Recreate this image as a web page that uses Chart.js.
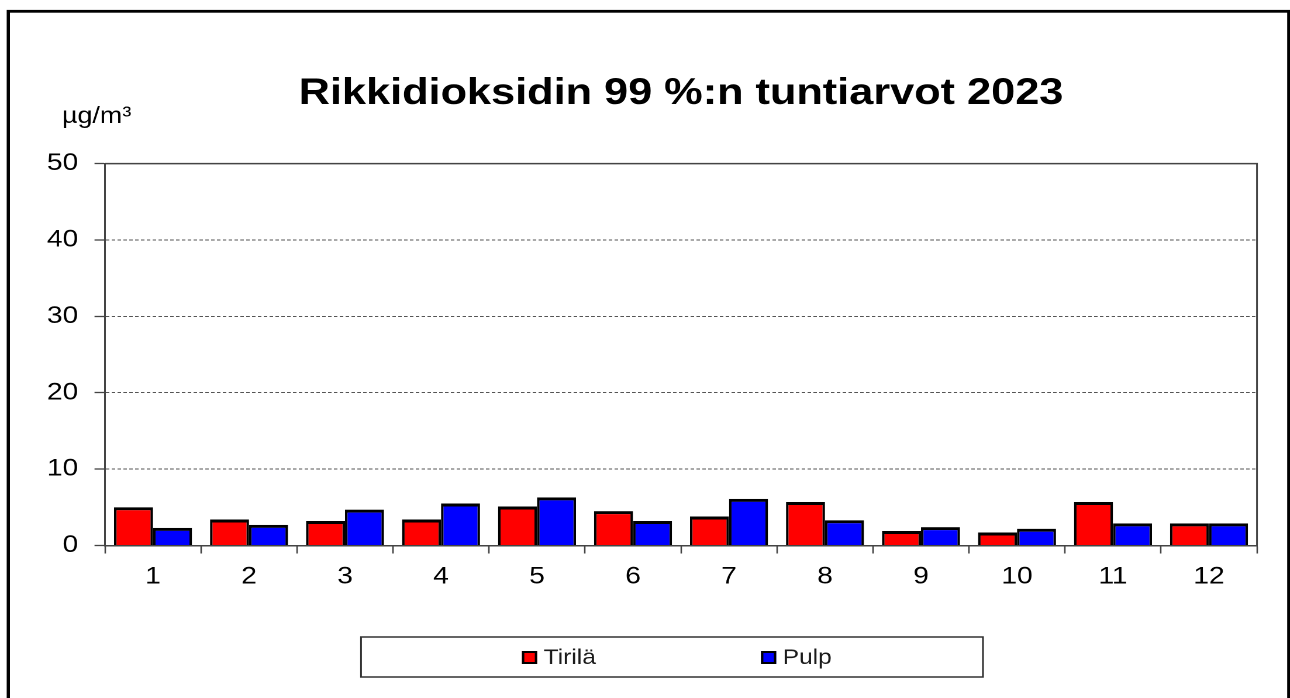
<!DOCTYPE html>
<html>
<head>
<meta charset="utf-8">
<title>Rikkidioksidi 2023</title>
<script src="https://cdn.jsdelivr.net/npm/chart.js@4"></script>
<style>
  html, body { margin: 0; padding: 0; background: #fff; overflow: hidden; }
  /* chart is laid out narrower and stretched sideways, like the old spreadsheet export */
  #wrap { width: 1103px; height: 698px; transform: scaleX(1.1695); transform-origin: 0 0; }
</style>
</head>
<body>
<div id="wrap"><canvas id="myChart" width="1103" height="698"></canvas></div>
<script>
const months = ['1', '2', '3', '4', '5', '6', '7', '8', '9', '10', '11', '12'];
const tirila = [5.0, 3.4, 3.2, 3.4, 5.1, 4.5, 3.8, 5.7, 1.9, 1.7, 5.7, 2.9];
const pulp = [2.3, 2.7, 4.7, 5.5, 6.3, 3.2, 6.1, 3.3, 2.4, 2.2, 2.9, 2.9];
const seriesNames = ['Tirilä', 'Pulp'];
const yTicks = [0, 10, 20, 30, 40, 50];

const fontFamily = '"Liberation Sans", Arial, Helvetica, sans-serif';
Chart.defaults.font.family = fontFamily;
Chart.defaults.color = '#000';

// outer frame, plot box, unit text and the boxed legend
const decor = {
  id: 'decor',
  beforeDraw(chart) {
    const c = chart.ctx;
    c.save();
    c.fillStyle = '#fff';
    c.fillRect(0, 0, chart.width, chart.height);
    c.restore();
  },
  afterDraw(chart) {
    const c = chart.ctx;
    const a = chart.chartArea;
    c.save();

    c.strokeStyle = '#444';
    c.lineWidth = 1.5;
    c.beginPath();
    c.moveTo(a.left, a.top);
    c.lineTo(a.right, a.top);
    c.lineTo(a.right, a.bottom);
    c.stroke();

    c.strokeStyle = '#000';
    c.lineWidth = 2.8;
    c.strokeRect(7.1, 11.3, 1094.9, 720);

    c.fillStyle = '#000';
    c.font = '23px ' + fontFamily;
    c.textBaseline = 'alphabetic';
    c.textAlign = 'left';
    c.fillText('µg/m³', 53, 123);

    c.strokeStyle = '#333';
    c.lineWidth = 1.5;
    c.strokeRect(308.7, 637, 531.8, 40);

    const spots = [446.3, 650.7];
    chart.data.datasets.forEach((ds, i) => {
      const x = spots[i], y = 651;
      c.fillStyle = ds.backgroundColor;
      c.fillRect(x, y, 13, 13);
      c.strokeStyle = '#000';
      c.lineWidth = 2;
      c.strokeRect(x + 1, y + 1, 11, 11);
      c.fillStyle = '#1a1a1a';
      c.font = '21px ' + fontFamily;
      c.textBaseline = 'middle';
      c.fillText(ds.label, x + 18.5, 658);
    });
    c.restore();
  }
};

const barBorder = { top: 3, left: 2.2, right: 2.2, bottom: 0 };

let ctx = document.getElementById('myChart').getContext('2d');
let myChart = new Chart(ctx, {
  type: 'bar',
  data: {
    labels: months,
    datasets: [{
      label: seriesNames[0],
      data: tirila,
      backgroundColor: '#FF0000',
      borderColor: '#000',
      borderWidth: barBorder,
      borderSkipped: 'start',
      categoryPercentage: 0.8125,
      barPercentage: 1.0
    }, {
      label: seriesNames[1],
      data: pulp,
      backgroundColor: '#0000FF',
      borderColor: '#000',
      borderWidth: barBorder,
      borderSkipped: 'start',
      categoryPercentage: 0.8125,
      barPercentage: 1.0
    }]
  },
  options: {
    responsive: false,
    animation: false,
    devicePixelRatio: 2,
    layout: { padding: { left: 0, right: 28.2, top: 0, bottom: 0 } },
    plugins: {
      legend: { display: false },
      tooltip: { enabled: false },
      title: {
        display: true,
        fullSize: false,
        text: 'Rikkidioksidin 99 %:n tuntiarvot 2023',
        color: '#000',
        font: { size: 37, weight: 'bold' },
        padding: { top: 71.8, bottom: 47.4 }
      }
    },
    scales: {
      x: {
        z: 1,
        afterFit: (s) => { s.height = 152.5; },
        grid: {
          offset: true,
          drawOnChartArea: false,
          drawTicks: true,
          tickLength: 8,
          tickColor: '#444',
          tickWidth: 1.3
        },
        border: { display: true, color: '#444', width: 1.5 },
        ticks: { font: { size: 24 }, color: '#000', padding: 9 }
      },
      y: {
        min: yTicks[0],
        max: yTicks[yTicks.length - 1],
        afterFit: (s) => { s.width = 89.8; },
        afterBuildTicks: (s) => { s.ticks = yTicks.map(v => ({ value: v })); },
        grid: {
          color: '#555',
          lineWidth: 1,
          borderDash: [3, 2],
          tickLength: 9,
          tickColor: '#444',
          tickWidth: 1.3,
          tickBorderDash: []
        },
        border: { display: true, color: '#444', width: 1.5, dash: [3, 2] },
        ticks: { font: { size: 24 }, color: '#000', padding: 14 }
      }
    }
  },
  plugins: [decor]
});
</script>
</body>
</html>
